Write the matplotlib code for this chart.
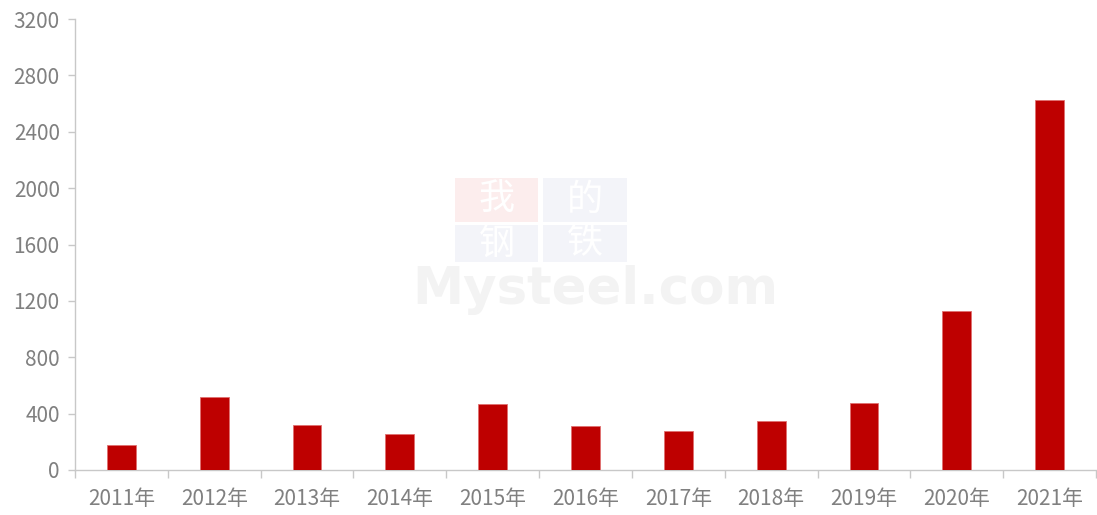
import matplotlib
matplotlib.use('Agg')
import matplotlib.pyplot as plt
from matplotlib.patches import Rectangle
from matplotlib.ticker import FixedLocator

plt.rcParams['font.family'] = ['Noto Sans CJK SC', 'DejaVu Sans']

# 数据
years = ['2011年', '2012年', '2013年', '2014年', '2015年', '2016年',
         '2017年', '2018年', '2019年', '2020年', '2021年']
values = [174, 521, 320, 257, 468, 313, 278, 347, 474, 1131, 2625]
y_ticks = [0, 400, 800, 1200, 1600, 2000, 2400, 2800, 3200]

bar_color = '#BE0000'
grey = '#808080'
spine = '#C8C8C8'

W, H = 1097, 515
fig = plt.figure(figsize=(W / 100, H / 100), dpi=100)
ax = fig.add_axes([75 / W, 45 / H, 1 - 76 / W, 451 / H])

x = list(range(len(years)))
ax.bar(x, values, width=0.31, color=bar_color, edgecolor='#E07070', linewidth=0.6, zorder=3)

ax.set_xlim(-0.5, len(years) - 0.5)
ax.set_ylim(0, 3200)
ax.set_yticks(y_ticks)
ax.set_xticks(x)
ax.set_xticklabels(years)
ax.xaxis.set_minor_locator(FixedLocator([i - 0.5 for i in range(len(years) + 1)]))

ax.tick_params(axis='x', which='major', length=0, pad=13, labelsize=15, labelcolor=grey)
ax.tick_params(axis='x', which='minor', length=6, width=1, color=spine, direction='out')
ax.tick_params(axis='y', length=5, width=1, color=spine, labelsize=15, labelcolor=grey, pad=6)

for s in ['top', 'right']:
    ax.spines[s].set_visible(False)
for s in ['left', 'bottom']:
    ax.spines[s].set_color(spine)
    ax.spines[s].set_linewidth(1)

# 水印 (背景)
def wm_box(x0, y0, x1, y1, ch, face):
    fig.patches.append(Rectangle((x0 / W, 1 - y1 / H), (x1 - x0) / W, (y1 - y0) / H,
                                 transform=fig.transFigure, facecolor=face,
                                 edgecolor='none', zorder=0))
    fig.text((x0 + x1) / 2 / W, 1 - (y0 + y1) / 2 / H, ch, fontsize=26, color='white',
             ha='center', va='center', zorder=0.5)

wm_box(455, 178, 538, 222, '我', '#FCEDED')
wm_box(543, 178, 627, 222, '的', '#F3F4F9')
wm_box(455, 225, 538, 262, '钢', '#F3F4F9')
wm_box(543, 225, 627, 262, '铁', '#F3F4F9')
fig.text(595 / W, 1 - 304 / H, 'Mysteel.com', fontsize=37, fontweight='bold', color='#F3F3F3',
         ha='center', va='baseline', family='DejaVu Sans', zorder=0)

fig.savefig('out.png', dpi=100)
